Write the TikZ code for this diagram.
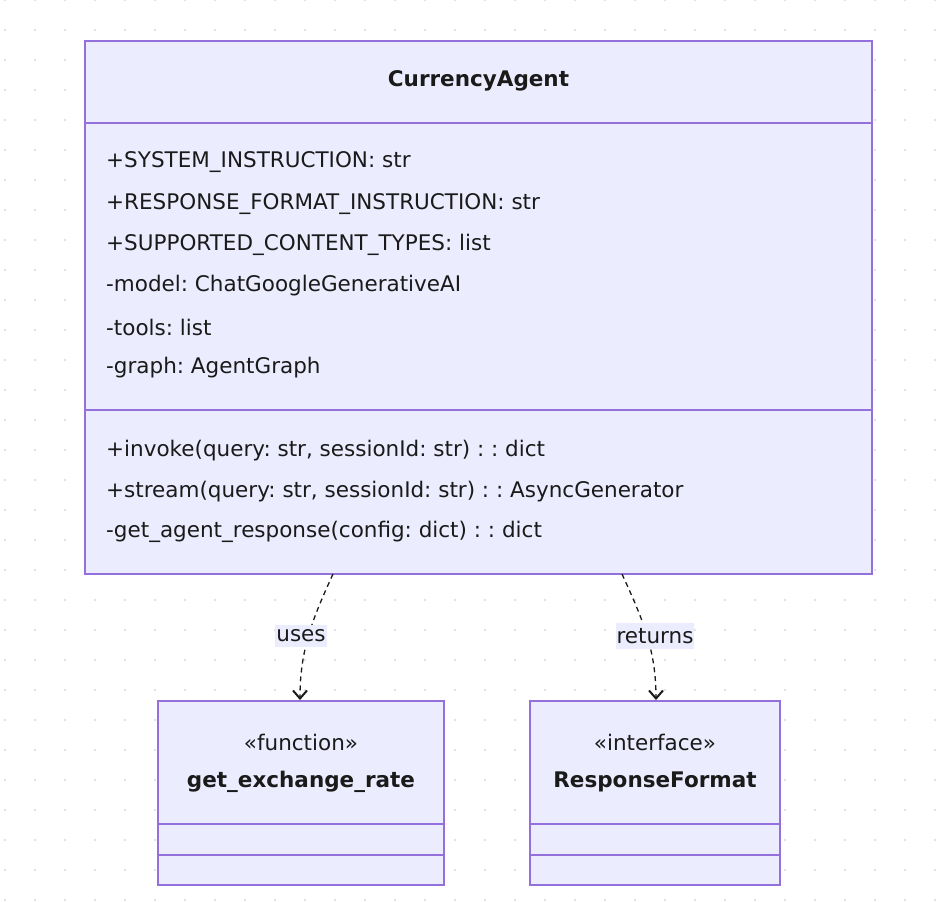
\documentclass[tikz,border=0pt]{standalone}
\usepackage{fontspec}
\setmainfont{DejaVu Sans}
\frenchspacing
\usetikzlibrary{arrows.meta}
\definecolor{boxfill}{HTML}{ECECFF}
\definecolor{boxline}{HTML}{9370DB}
\definecolor{txt}{HTML}{1A1A1A}
\definecolor{dotc}{HTML}{D8D8D8}
\begin{document}
\begin{tikzpicture}[x=1pt,y=-1pt,
  box/.style={draw=boxline,fill=boxfill,line width=1.5pt},
  sep/.style={draw=boxline,line width=1.5pt},
  t/.style={anchor=west,inner sep=0pt,text=txt,font=\fontsize{21.5}{24}\selectfont},
  c/.style={inner sep=0pt,text=txt,font=\fontsize{21.5}{24}\selectfont},
  lbl/.style={fill=boxfill,inner xsep=1pt,inner ysep=5pt,text=txt,font=\fontsize{21.5}{24}\selectfont},
  rel/.style={draw=txt,line width=1.3pt,dashed,dash pattern=on 5pt off 4pt,-{Straight Barb[length=8pt,width=14pt,line width=2pt]}}]
\useasboundingbox (0,0) rectangle (946,902);
\fill[white] (0,0) rectangle (946,902);
\foreach \i in {0,...,31}{\foreach \j in {0,...,30}{\fill[dotc] (5+30*\i,30*\j) circle (1.2);}}
% main class
\draw[box] (85,41) rectangle (872,574);
\draw[sep] (85,123) -- (872,123);
\draw[sep] (85,410) -- (872,410);
\coordinate (mainL) at (333,574);
\coordinate (mainR) at (622,574);
\node[c,font=\fontsize{21.5}{24}\selectfont\bfseries] (title) at (478.5,81) {CurrencyAgent};
\node[t] (a1) at (106,162) {+SYSTEM\_INSTRUCTION: str};
\node[t] (a2) at (106,204) {+RESPONSE\_FORMAT\_INSTRUCTION: str};
\node[t] (a3) at (106,245) {+SUPPORTED\_CONTENT\_TYPES: list};
\node[t] (a4) at (106,286) {-model: ChatGoogleGenerativeAI};
\node[t] (a5) at (106,327) {-tools: list};
\node[t] (a6) at (106,368) {-graph: AgentGraph};
\node[t] (m1) at (106,451) {+invoke(query: str, sessionId: str) : : dict};
\node[t] (m2) at (106,492) {+stream(query: str, sessionId: str) : : AsyncGenerator};
\node[t] (m3) at (106,532) {-get\_agent\_response(config: dict) : : dict};
% function box
\draw[box] (158,701) rectangle (444,885);
\draw[sep] (158,824) -- (444,824);
\draw[sep] (158,855) -- (444,855);
\coordinate (fnT) at (300,700);
\node[c] (f1) at (301,742) {«function»};
\node[c,font=\fontsize{21.5}{24}\selectfont\bfseries] (f2) at (301,782) {get\_exchange\_rate};
% interface box
\draw[box] (530,701) rectangle (780,885);
\draw[sep] (530,824) -- (780,824);
\draw[sep] (530,855) -- (780,855);
\coordinate (ifT) at (656,700);
\node[c] (i1) at (655,742) {«interface»};
\node[c,font=\fontsize{21.5}{24}\selectfont\bfseries] (i2) at (655,782) {ResponseFormat};
% relations
\draw[rel] (mainL) .. controls (312,620) and (300,650) .. (fnT);
\draw[rel] (mainR) .. controls (643,620) and (656,650) .. (ifT);
\node[lbl] (uses) at (301,636) {uses};
\node[lbl] (returns) at (655,636) {returns};
\end{tikzpicture}
\end{document}
